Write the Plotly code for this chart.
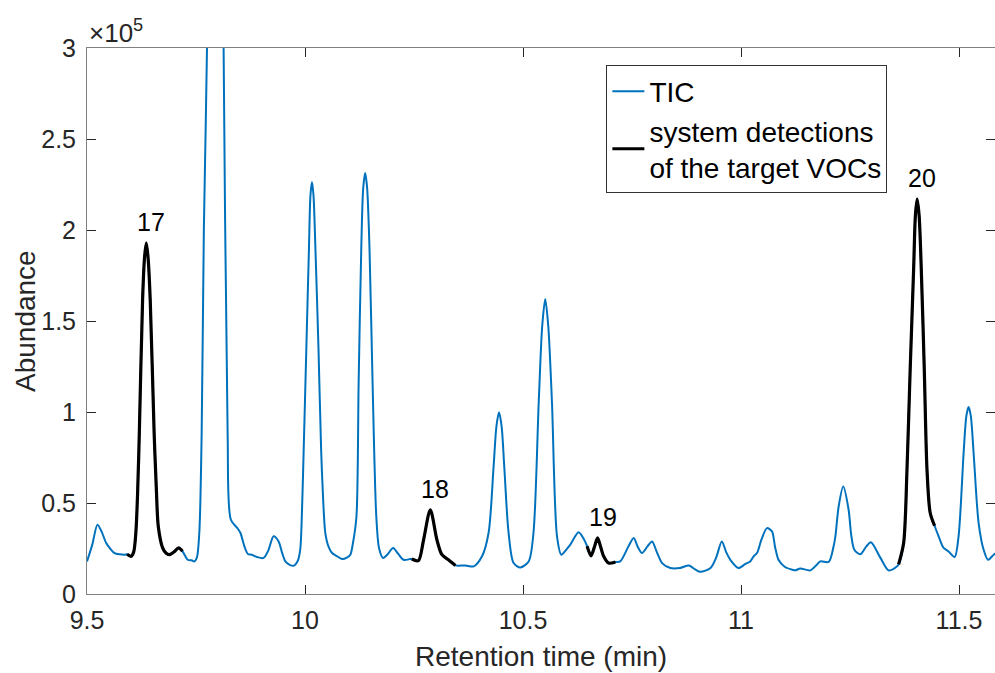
import plotly.graph_objects as go

# Retention time (min) and TIC abundance (x 10^5)
time_min = [
    9.500, 9.512, 9.524, 9.534, 9.544, 9.553, 9.563, 9.575, 9.586, 9.592,
    9.601, 9.607, 9.612, 9.616, 9.620, 9.6275, 9.632, 9.636, 9.640, 9.645,
    9.654, 9.659, 9.6635, 9.6735, 9.681, 9.689, 9.700, 9.710, 9.719, 9.731,
    9.740, 9.746, 9.752, 9.7576, 9.763, 9.768, 9.7752, 9.785, 9.794, 9.803,
    9.8133, 9.8225, 9.830, 9.845, 9.852, 9.861, 9.869, 9.878, 9.890, 9.905,
    9.916, 9.928, 9.9395, 9.947, 9.955, 9.965, 9.974, 9.983, 9.989, 9.993,
    9.997, 10.003, 10.009, 10.0125, 10.016, 10.0195, 10.024, 10.031, 10.037, 10.042,
    10.0466, 10.054, 10.062, 10.072, 10.085, 10.096, 10.104, 10.110, 10.118, 10.123,
    10.129, 10.1335, 10.138, 10.1425, 10.148, 10.155, 10.1635, 10.170, 10.179, 10.190,
    10.202, 10.214, 10.226, 10.2415, 10.245, 10.260, 10.272, 10.2874, 10.3025, 10.314,
    10.329, 10.345, 10.368, 10.387, 10.406, 10.421, 10.4326, 10.439, 10.445, 10.451,
    10.457, 10.467, 10.4785, 10.494, 10.513, 10.524, 10.536, 10.544, 10.551, 10.558,
    10.5665, 10.578, 10.588, 10.598, 10.6085, 10.6275, 10.640, 10.647, 10.656, 10.664,
    10.671, 10.678, 10.685, 10.6965, 10.712, 10.723, 10.742, 10.754, 10.763, 10.773,
    10.785, 10.796, 10.807, 10.819, 10.838, 10.860, 10.8807, 10.895, 10.9067, 10.930,
    10.943, 10.956, 10.966, 10.9755, 10.9945, 11.010, 11.021, 11.029, 11.0367, 11.047,
    11.0596, 11.071, 11.078, 11.086, 11.100, 11.117, 11.1245, 11.136, 11.159, 11.174,
    11.182, 11.201, 11.2124, 11.2165, 11.224, 11.2345, 11.2468, 11.253, 11.260, 11.2736,
    11.287, 11.298, 11.3195, 11.3386, 11.358, 11.3615, 11.373, 11.3807, 11.388, 11.3959,
    11.400, 11.404, 11.4085, 11.4135, 11.4204, 11.4266, 11.434, 11.444, 11.4533, 11.4647,
    11.476, 11.490, 11.499, 11.5106, 11.517, 11.522, 11.527, 11.5335, 11.545, 11.5565,
    11.5665, 11.5795, 11.585,
]
abundance_e5 = [
    0.179, 0.270, 0.381, 0.340, 0.280, 0.250, 0.225, 0.218, 0.216, 0.218,
    0.207, 0.230, 0.335, 0.550, 0.885, 1.617, 1.850, 1.929, 1.850, 1.617,
    0.885, 0.580, 0.371, 0.253, 0.225, 0.216, 0.232, 0.253, 0.235, 0.188,
    0.185, 0.179, 0.200, 0.337, 0.885, 2.000, 3.000, 5.500, 6.500, 5.500,
    3.000, 0.885, 0.408, 0.362, 0.335, 0.262, 0.220, 0.216, 0.203, 0.198,
    0.240, 0.317, 0.289, 0.230, 0.179, 0.160, 0.155, 0.180, 0.243, 0.450,
    0.793, 1.342, 1.892, 2.190, 2.264, 2.190, 1.892, 1.342, 0.793, 0.500,
    0.335, 0.260, 0.225, 0.210, 0.192, 0.200, 0.216, 0.280, 0.426, 1.159,
    1.892, 2.230, 2.313, 2.230, 1.892, 1.159, 0.426, 0.250, 0.198, 0.220,
    0.253, 0.220, 0.188, 0.192, 0.192, 0.183, 0.298, 0.463, 0.298, 0.216,
    0.188, 0.157, 0.157, 0.152, 0.207, 0.335, 0.701, 0.920, 0.998, 0.920,
    0.701, 0.335, 0.170, 0.146, 0.179, 0.335, 1.049, 1.470, 1.621, 1.470,
    1.049, 0.317, 0.216, 0.240, 0.271, 0.339, 0.300, 0.262, 0.210, 0.260,
    0.308, 0.260, 0.207, 0.170, 0.176, 0.179, 0.262, 0.308, 0.260, 0.225,
    0.260, 0.289, 0.230, 0.170, 0.143, 0.143, 0.157, 0.135, 0.122, 0.143,
    0.200, 0.289, 0.230, 0.188, 0.143, 0.165, 0.179, 0.207, 0.225, 0.300,
    0.362, 0.344, 0.260, 0.188, 0.150, 0.134, 0.130, 0.140, 0.130, 0.161,
    0.179, 0.176, 0.262, 0.317, 0.481, 0.590, 0.463, 0.320, 0.243, 0.218,
    0.260, 0.284, 0.200, 0.130, 0.152, 0.163, 0.280, 0.683, 1.232, 1.782,
    2.080, 2.170, 2.080, 1.782, 1.232, 0.683, 0.445, 0.375, 0.317, 0.253,
    0.234, 0.203, 0.317, 0.775, 0.980, 1.027, 0.980, 0.775, 0.390, 0.243,
    0.188, 0.216, 0.225,
]
assert len(time_min) == len(abundance_e5)

# Detection windows (min) of the target VOCs and their labels
target_labels = ["17", "18", "19", "20"]
target_start = [9.589, 10.245, 10.645, 11.3615]
target_end = [9.720, 10.345, 10.712, 11.444]

x_ticks = [9.5, 10, 10.5, 11, 11.5]
x_ticktext = ["9.5", "10", "10.5", "11", "11.5"]
y_ticks = [0, 0.5, 1, 1.5, 2, 2.5, 3]
y_ticktext = ["0", "0.5", "1", "1.5", "2", "2.5", "3"]

BLUE = "#0072BD"
FONT = "Liberation Sans, Arial, Helvetica, sans-serif"
TXT = "#262626"

fig = go.Figure()
fig.add_trace(go.Scatter(
    x=time_min, y=abundance_e5, mode="lines", name="TIC",
    line=dict(color=BLUE, width=2, shape="spline", smoothing=0.8),
))

for i, (lab, t0, t1) in enumerate(zip(target_labels, target_start, target_end)):
    xs = [t for t in time_min if t0 <= t <= t1]
    ys = [v for t, v in zip(time_min, abundance_e5) if t0 <= t <= t1]
    fig.add_trace(go.Scatter(
        x=xs, y=ys, mode="lines",
        name="system detections<br>of the target VOCs",
        legendgroup="det", showlegend=(i == 0),
        line=dict(color="black", width=3.2, shape="spline", smoothing=0.8),
    ))
    k = ys.index(max(ys))
    fig.add_annotation(
        x=xs[k], y=ys[k], text=lab, showarrow=False,
        xanchor="center", yanchor="bottom", xshift=5, yshift=5,
        font=dict(family=FONT, size=25, color="black"),
    )

fig.add_annotation(
    xref="paper", yref="paper", x=0, y=1, xanchor="left", yanchor="bottom",
    text="×10<sup>5</sup>", showarrow=False, yshift=-2,
    font=dict(family=FONT, size=26, color=TXT),
)
fig.add_annotation(
    xref="paper", yref="paper", x=0.5, y=0, xanchor="center", yanchor="middle",
    text="Retention time (min)", showarrow=False, yshift=-62,
    font=dict(family=FONT, size=28, color=TXT),
)
fig.add_annotation(
    xref="paper", yref="paper", x=0, y=0.5, xanchor="center", yanchor="middle",
    text="Abundance", showarrow=False, xshift=-62, textangle=-90,
    font=dict(family=FONT, size=28, color=TXT),
)

fig.update_layout(
    width=995, height=673,
    margin=dict(l=87, r=0, t=48, b=79, autoexpand=False),
    paper_bgcolor="white", plot_bgcolor="white",
    font=dict(family=FONT, color=TXT),
    showlegend=True,
    legend=dict(
        x=0.572, y=0.968, xanchor="left", yanchor="top",
        bgcolor="white", bordercolor="#333333", borderwidth=1,
        font=dict(family=FONT, size=28, color="black"),
        itemwidth=32, tracegroupgap=0,
    ),
)
fig.update_xaxes(
    range=[9.5, 9.5 + 908 / 436], tickvals=x_ticks, ticktext=x_ticktext,
    ticks="inside", ticklen=9, tickcolor="#262626", showgrid=False, zeroline=False,
    showline=True, linecolor="#808080", linewidth=1, mirror="ticks",
    tickfont=dict(family=FONT, size=25, color=TXT), automargin=False,
    ticklabelstandoff=4,
)
fig.update_yaxes(
    range=[0, 3], tickvals=y_ticks, ticktext=y_ticktext,
    ticks="inside", ticklen=9, tickcolor="#262626", showgrid=False, zeroline=False,
    showline=True, linecolor="#808080", linewidth=1, mirror="ticks",
    tickfont=dict(family=FONT, size=25, color=TXT), ticklabelstandoff=5,
    automargin=False,
)

fig.write_html(
    "out.html",
    config={"displayModeBar": False},
    post_script="document.body.style.margin='0px';document.body.style.overflow='hidden';",
)
